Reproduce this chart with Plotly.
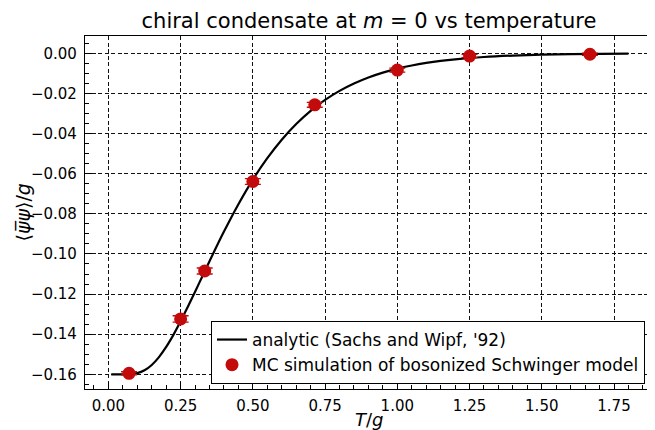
import plotly.graph_objects as go

# analytic curve (Sachs & Wipf '92), values read/estimated along the curve
T_curve = [0.01, 0.05, 0.075, 0.1, 0.125, 0.15, 0.175, 0.2, 0.225, 0.25, 0.275, 0.3, 0.325,
           0.35, 0.4, 0.45, 0.5, 0.55, 0.6, 0.65, 0.7, 0.75, 0.8, 0.85, 0.9, 0.95,
           1.0, 1.05, 1.1, 1.15, 1.2, 1.3, 1.4, 1.5, 1.6, 1.7, 1.8]
C_curve = [-0.16000, -0.16000, -0.15994, -0.15941, -0.15798, -0.15532, -0.15140, -0.14634,
           -0.14032, -0.13359, -0.12631, -0.11884, -0.11120, -0.10360, -0.08887, -0.07521,
           -0.06294, -0.05227, -0.04306, -0.03524, -0.02868, -0.02323, -0.01874, -0.01506,
           -0.01206, -0.00963, -0.00767, -0.00610, -0.00483, -0.00382, -0.00303, -0.00187,
           -0.00116, -0.00071, -0.00043, -0.00026, -0.00016]

# MC simulation points
T_mc = [1/14, 0.25, 1/3, 0.5, 1/1.4, 1.0, 1.25, 1/0.6]
C_mc = [-0.1595, -0.1324, -0.1085, -0.0639, -0.0257, -0.0084, -0.0014, -0.0005]
C_err = [0.0008, 0.0016, 0.0015, 0.0014, 0.0012, 0.0010, 0.0008, 0.0006]

x_ticks = [0.0, 0.25, 0.5, 0.75, 1.0, 1.25, 1.5, 1.75]
y_ticks = [0.0, -0.02, -0.04, -0.06, -0.08, -0.10, -0.12, -0.14, -0.16]

red = "#c30b0b"
font = "DejaVu Sans, Liberation Sans, sans-serif"

# the page body has an 8px margin, so the figure is sized/offset to compensate
OFF = 8
W, H = 655 - OFF, 430 - OFF
L, R, T, B = 85 - OFF, 2, 36 - OFF, 41
PW, PH = W - L - R, H - T - B

fig = go.Figure()
fig.add_trace(go.Scatter(
    x=T_curve, y=C_curve, mode="lines", line=dict(color="black", width=2.2, shape="spline"),
    name="analytic (Sachs and Wipf, '92)"))
fig.add_trace(go.Scatter(
    x=T_mc, y=C_mc, mode="markers",
    marker=dict(color=red, size=13),
    error_y=dict(type="data", array=C_err, color=red, thickness=1.3, width=8),
    name="MC simulation of bosonized Schwinger model"))

axis_common = dict(
    showline=True, linecolor="black", linewidth=1.3, mirror=True,
    showgrid=True, gridcolor="#111111", griddash="4px,2.5px", gridwidth=1,
    zeroline=False, ticks="inside", ticklen=7, tickwidth=1.2, tickcolor="black",
    tickfont=dict(size=15, color="black", family=font), automargin=False,
)

fig.update_layout(
    width=W, height=H,
    margin=dict(l=L, r=R, t=T, b=B),
    paper_bgcolor="white", plot_bgcolor="white",
    font=dict(family=font, color="black"),
    title=dict(text="chiral condensate at <i>m</i> = 0 vs temperature",
               x=(L + PW / 2) / W, xanchor="center", y=1 - (21 - OFF) / H, yanchor="middle",
               font=dict(size=21, color="black")),
    showlegend=True,
    legend=dict(x=(645 - OFF - L) / PW, xanchor="right", y=(H - B - (384 - OFF)) / PH,
                yanchor="bottom",
                bgcolor="white", bordercolor="black", borderwidth=1,
                font=dict(size=17, color="black"), tracegroupgap=0,
                itemwidth=30),
    annotations=[
        dict(text="<i>T</i>/<i>g</i>", xref="paper", yref="paper",
             x=0.5, y=-(419 - 389) / PH, xanchor="center", yanchor="middle",
             showarrow=False, font=dict(size=18, color="black")),
        dict(text="⟨<i>ψ̅ψ</i>⟩/<i>g</i>", xref="paper", yref="paper",
             x=-(85 - 22) / PW, y=0.5, xanchor="center", yanchor="middle",
             textangle=-90, showarrow=False, font=dict(size=19, color="black")),
    ],
)
fig.update_xaxes(
    range=[-0.081, 1.885], tickvals=x_ticks, tickformat=".2f", ticklabelstandoff=3,
    minor=dict(ticks="inside", ticklen=4, tickwidth=1, tickcolor="black", dtick=0.05, tick0=0,
               showgrid=False),
    **axis_common)
fig.update_yaxes(
    range=[-0.1673, 0.0086], tickvals=y_ticks, tickformat=".2f", ticklabelstandoff=4,
    minor=dict(ticks="inside", ticklen=4, tickwidth=1, tickcolor="black", dtick=0.005, tick0=0,
               showgrid=False),
    **axis_common)

fig.write_html("out.html")
